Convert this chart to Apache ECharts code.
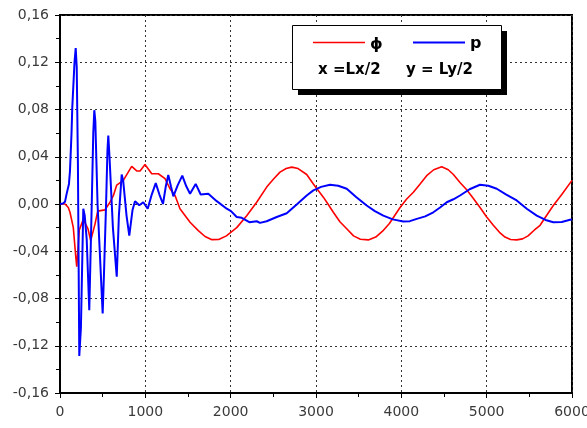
<!DOCTYPE html>
<html><head><meta charset="utf-8">
<script src="https://cdn.jsdelivr.net/npm/echarts@6/dist/echarts.min.js"></script>
<style>html,body{margin:0;padding:0;background:#fff}#c{width:587px;height:428px}</style>
</head><body><div id="c"></div>
<script>
// ---- data ----
const phiX = [0, 59, 97, 117, 156, 184, 196, 226, 273, 328, 360, 410, 442, 527, 586, 625, 665, 742, 840, 899, 938, 996, 1075, 1152, 1231, 1289, 1348, 1406, 1524, 1621, 1700, 1780, 1860, 1950, 2071, 2188, 2305, 2422, 2500, 2578, 2650, 2716, 2790, 2891, 2969, 3086, 3140, 3203, 3280, 3360, 3440, 3520, 3613, 3700, 3780, 3860, 3985, 4060, 4141, 4220, 4297, 4380, 4473, 4550, 4610, 4690, 4766, 4840, 4922, 5000, 5078, 5150, 5215, 5280, 5352, 5420, 5485, 5560, 5626, 5700, 5781, 5880, 6000];
const phiY = [0, 0, -0.003, -0.007, -0.02, -0.044, -0.053, -0.022, -0.013, -0.021, -0.031, -0.017, -0.006, -0.005, 0.0015, 0.007, 0.016, 0.020, 0.0318, 0.028, 0.028, 0.0335, 0.0256, 0.0256, 0.0214, 0.0129, 0.0072, -0.004, -0.0154, -0.0225, -0.0275, -0.0302, -0.0300, -0.027, -0.020, -0.010, 0.0015, 0.0143, 0.021, 0.027, 0.0300, 0.0312, 0.0300, 0.025, 0.017, 0.0058, 0.000, -0.007, -0.015, -0.021, -0.027, -0.0298, -0.0304, -0.028, -0.023, -0.0165, -0.003, 0.004, 0.010, 0.017, 0.024, 0.029, 0.0315, 0.029, 0.025, 0.018, 0.012, 0.005, -0.003, -0.011, -0.018, -0.024, -0.028, -0.030, -0.0304, -0.0295, -0.027, -0.022, -0.018, -0.010, -0.0013, 0.008, 0.020];

const pX = [0, 35, 59, 79, 105, 117, 135, 144, 170, 184, 196, 210, 226, 245, 273, 290, 313, 343, 372, 390, 402, 414, 440, 500, 515, 540, 556, 566, 580, 620, 665, 690, 723, 740, 780, 812, 850, 879, 929, 976, 1028, 1075, 1122, 1165, 1207, 1240, 1269, 1300, 1328, 1380, 1433, 1480, 1524, 1590, 1649, 1738, 1837, 1954, 2004, 2071, 2130, 2219, 2305, 2344, 2422, 2540, 2657, 2774, 2891, 2969, 3060, 3164, 3260, 3360, 3470, 3594, 3690, 3789, 3900, 4023, 4100, 4181, 4280, 4375, 4454, 4532, 4610, 4688, 4800, 4922, 5020, 5118, 5230, 5352, 5470, 5587, 5690, 5781, 5880, 5977, 6000];
const pY = [0, 0.0005, 0.002, 0.009, 0.017, 0.028, 0.06, 0.082, 0.12, 0.132, 0.116, 0.034, -0.1286, -0.105, -0.004, -0.01, -0.03, -0.090, 0.0, 0.06, 0.0794, 0.07, 0.0, -0.0927, -0.06, 0.0, 0.045, 0.058, 0.04, -0.02, -0.0615, -0.01, 0.025, 0.02, -0.01, -0.0267, -0.005, 0.0024, -0.001, 0.0015, -0.004, 0.008, 0.0177, 0.008, 0.0, 0.015, 0.0245, 0.015, 0.0065, 0.016, 0.024, 0.015, 0.0087, 0.017, 0.008, 0.0087, 0.0024, -0.004, -0.006, -0.011, -0.0117, -0.0154, -0.0146, -0.016, -0.0146, -0.011, -0.0078, -0.0004, 0.0072, 0.0115, 0.0145, 0.0163, 0.0155, 0.0129, 0.006, -0.0013, -0.006, -0.0098, -0.013, -0.0149, -0.0145, -0.0126, -0.0105, -0.007, -0.003, 0.0015, 0.004, 0.0072, 0.0125, 0.0163, 0.0155, 0.0129, 0.008, 0.003, -0.004, -0.0098, -0.0135, -0.0154, -0.0152, -0.0134, -0.0132];

const xMin = 0, xMax = 6000, xStep = 1000;
const yMin = -0.16, yMax = 0.16, yStep = 0.04;
const legendNames = ['\u03D5', 'p'];
const legendNote = ['x =Lx/2', 'y = Ly/2'];

// ---- chart ----
const pairs = (xs, ys) => xs.map((x, i) => [x, ys[i]]);
const chart = echarts.init(document.getElementById('c'), null, {renderer: 'canvas'});
const gridLine = {show: true, lineStyle: {color: '#333', type: [2, 3], width: 1}};
const lblFont = 'DejaVu Sans';
chart.setOption({
  animation: false,
  backgroundColor: '#fff',
  grid: {left: 60, right: 15, top: 15, bottom: 35, containLabel: false, outerBoundsMode: 'none',
         show: true, borderColor: '#000', borderWidth: 2, backgroundColor: 'transparent'},
  xAxis: {
    type: 'value', min: xMin, max: xMax, interval: xStep,
    axisLine: {show: true, onZero: false, lineStyle: {color: '#000', width: 2}},
    axisTick: {show: true, inside: false, length: 5, lineStyle: {color: '#000', width: 1}},
    minorTick: {show: true, splitNumber: 2, length: 4, lineStyle: {color: '#000', width: 1}},
    splitLine: gridLine,
    axisLabel: {color: '#3a3a3a', fontFamily: lblFont, fontSize: 14, margin: 12, formatter: v => String(Math.round(v))}
  },
  yAxis: {
    type: 'value', min: yMin, max: yMax, interval: yStep,
    axisLine: {show: true, onZero: false, lineStyle: {color: '#000', width: 2}},
    axisTick: {show: true, inside: false, length: 5, lineStyle: {color: '#000', width: 1}},
    minorTick: {show: true, splitNumber: 2, length: 4, lineStyle: {color: '#000', width: 1}},
    splitLine: gridLine,
    axisLabel: {color: '#3a3a3a', fontFamily: lblFont, fontSize: 14, margin: 11,
      formatter: v => (Math.abs(v) < 1e-9 ? 0 : v).toFixed(2).replace('.', ',')}
  },
  series: [
    {name: legendNames[0], type: 'line', data: pairs(phiX, phiY), showSymbol: false, symbol: 'none',
     lineStyle: {color: '#ff0000', width: 1.6}, z: 3},
    {name: legendNames[1], type: 'line', data: pairs(pX, pY), showSymbol: false, symbol: 'none',
     lineStyle: {color: '#0000ff', width: 2}, z: 4}
  ],
  graphic: [
    {type: 'rect', shape: {x: 298, y: 31, width: 209, height: 64}, style: {fill: '#000'}, z: 100},
    {type: 'rect', shape: {x: 292.5, y: 25.5, width: 209, height: 64}, style: {fill: '#fff', stroke: '#000', lineWidth: 1}, z: 101},
    {type: 'line', shape: {x1: 313, y1: 42.5, x2: 365, y2: 42.5}, style: {stroke: '#ff0000', lineWidth: 1.6}, z: 102},
    {type: 'line', shape: {x1: 413, y1: 42.5, x2: 465, y2: 42.5}, style: {stroke: '#0000ff', lineWidth: 2}, z: 102},
    {type: 'text', x: 370, y: 45, style: {text: legendNames[0], font: 'bold 16px "DejaVu Sans"', fill: '#000', verticalAlign: 'middle'}, z: 102},
    {type: 'text', x: 470, y: 44, style: {text: legendNames[1], font: 'bold 16px "DejaVu Sans"', fill: '#000', verticalAlign: 'middle'}, z: 102},
    {type: 'text', x: 318, y: 70, style: {text: legendNote[0], font: 'bold 15px "DejaVu Sans"', fill: '#000', verticalAlign: 'middle'}, z: 102},
    {type: 'text', x: 406, y: 70, style: {text: legendNote[1], font: 'bold 15px "DejaVu Sans"', fill: '#000', verticalAlign: 'middle'}, z: 102}
  ]
});
</script></body></html>
